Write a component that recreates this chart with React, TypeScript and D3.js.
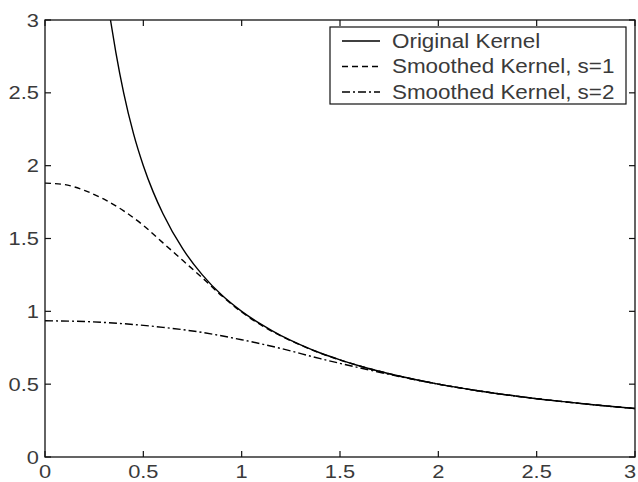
import React, { useEffect, useRef } from 'react'
import * as d3 from 'd3'

// values
const origX = [0.333, 0.36, 0.4, 0.45, 0.5, 0.55, 0.6, 0.7, 0.8, 0.9, 1.0, 1.1, 1.2, 1.3, 1.4, 1.5, 1.6, 1.8, 2.0, 2.2, 2.4, 2.6, 2.8, 3.0]
const origY = [3.0, 2.78, 2.5, 2.22, 2.0, 1.82, 1.67, 1.43, 1.25, 1.11, 1.0, 0.91, 0.833, 0.77, 0.714, 0.667, 0.625, 0.556, 0.5, 0.455, 0.417, 0.385, 0.357, 0.333]

const s1X = [0, 0.1, 0.2, 0.3, 0.4, 0.5, 0.6, 0.7, 0.8, 0.9, 1.0, 1.1, 1.2, 1.3, 1.4, 1.5, 1.6, 1.8, 2.0, 2.2, 2.4, 2.6, 2.8, 3.0]
const s1Y = [1.88, 1.87, 1.83, 1.77, 1.69, 1.59, 1.47, 1.35, 1.23, 1.105, 0.995, 0.905, 0.83, 0.768, 0.713, 0.666, 0.625, 0.556, 0.5, 0.455, 0.417, 0.385, 0.357, 0.333]

const s2X = [0, 0.2, 0.4, 0.6, 0.8, 1.0, 1.2, 1.4, 1.6, 1.8, 2.0, 2.2, 2.4, 2.6, 2.8, 3.0]
const s2Y = [0.935, 0.93, 0.915, 0.89, 0.855, 0.805, 0.745, 0.675, 0.612, 0.553, 0.5, 0.455, 0.417, 0.385, 0.357, 0.333]

const tickVals = [0, 0.5, 1, 1.5, 2, 2.5, 3]
const legendLabels = ['Original Kernel', 'Smoothed Kernel, s=1', 'Smoothed Kernel, s=2']
const dashes = ['none', '6,4', '8,3,2,3']

export default function App() {
  const ref = useRef<SVGSVGElement>(null)

  useEffect(() => {
    const svg = d3.select(ref.current)
    svg.selectAll('*').remove()
    const left = 45, top = 20, right = 635, bottom = 457
    const x = d3.scaleLinear().domain([0, 3]).range([left, right])
    const y = d3.scaleLinear().domain([0, 3]).range([bottom, top])
    const font = 'Liberation Sans, Arial, sans-serif'
    const sx = 1.15 // the reference text is a bit stretched sideways

    svg.append('rect').attr('width', 638).attr('height', 482).attr('fill', '#fff')

    const curve = d3.line<[number, number]>().x(d => x(d[0])).y(d => y(d[1])).curve(d3.curveMonotoneX)
    const series = [
      d3.zip(origX, origY) as [number, number][],
      d3.zip(s1X, s1Y) as [number, number][],
      d3.zip(s2X, s2Y) as [number, number][],
    ]
    series.forEach((s, i) => {
      svg.append('path').attr('d', curve(s)).attr('fill', 'none')
        .attr('stroke', '#000').attr('stroke-width', 1.4)
        .attr('stroke-dasharray', dashes[i])
    })

    // box
    svg.append('rect').attr('x', left).attr('y', top).attr('width', right - left).attr('height', bottom - top)
      .attr('fill', 'none').attr('stroke', '#111').attr('stroke-width', 1.3)

    const g = svg.append('g').attr('stroke', '#111').attr('stroke-width', 1.2)
    tickVals.forEach(t => {
      g.append('line').attr('x1', x(t)).attr('x2', x(t)).attr('y1', bottom).attr('y2', bottom - 6)
      g.append('line').attr('x1', x(t)).attr('x2', x(t)).attr('y1', top).attr('y2', top + 6)
      g.append('line').attr('y1', y(t)).attr('y2', y(t)).attr('x1', left).attr('x2', left + 6)
      g.append('line').attr('y1', y(t)).attr('y2', y(t)).attr('x1', right).attr('x2', right - 6)
    })

    const label = (px: number, py: number, txt: string, anchor: string, size: number) =>
      svg.append('text').attr('transform', `translate(${px},${py}) scale(${sx},1)`)
        .attr('text-anchor', anchor).attr('dy', '0.35em')
        .attr('font-family', font).attr('font-size', size).attr('fill', '#3a3a3a').text(txt)

    tickVals.forEach(t => {
      label(Math.min(x(t), 630), 471, String(t), 'middle', 19)
      label(39, y(t), String(t), 'end', 19)
    })

    // legend
    const lg = svg.append('g')
    lg.append('rect').attr('x', 330).attr('y', 27).attr('width', 296).attr('height', 77)
      .attr('fill', '#fff').attr('stroke', '#111').attr('stroke-width', 1.2)
    legendLabels.forEach((lab, i) => {
      const ly = 41 + i * 25.5
      lg.append('line').attr('x1', 342).attr('x2', 380).attr('y1', ly).attr('y2', ly)
        .attr('stroke', '#000').attr('stroke-width', 1.4).attr('stroke-dasharray', dashes[i])
      label(392, ly, lab, 'start', 19.5)
    })
  }, [])

  return (
    <svg ref={ref} width={638} height={482}
      style={{ position: 'absolute', left: 0, top: 0, display: 'block' }} />
  )
}
